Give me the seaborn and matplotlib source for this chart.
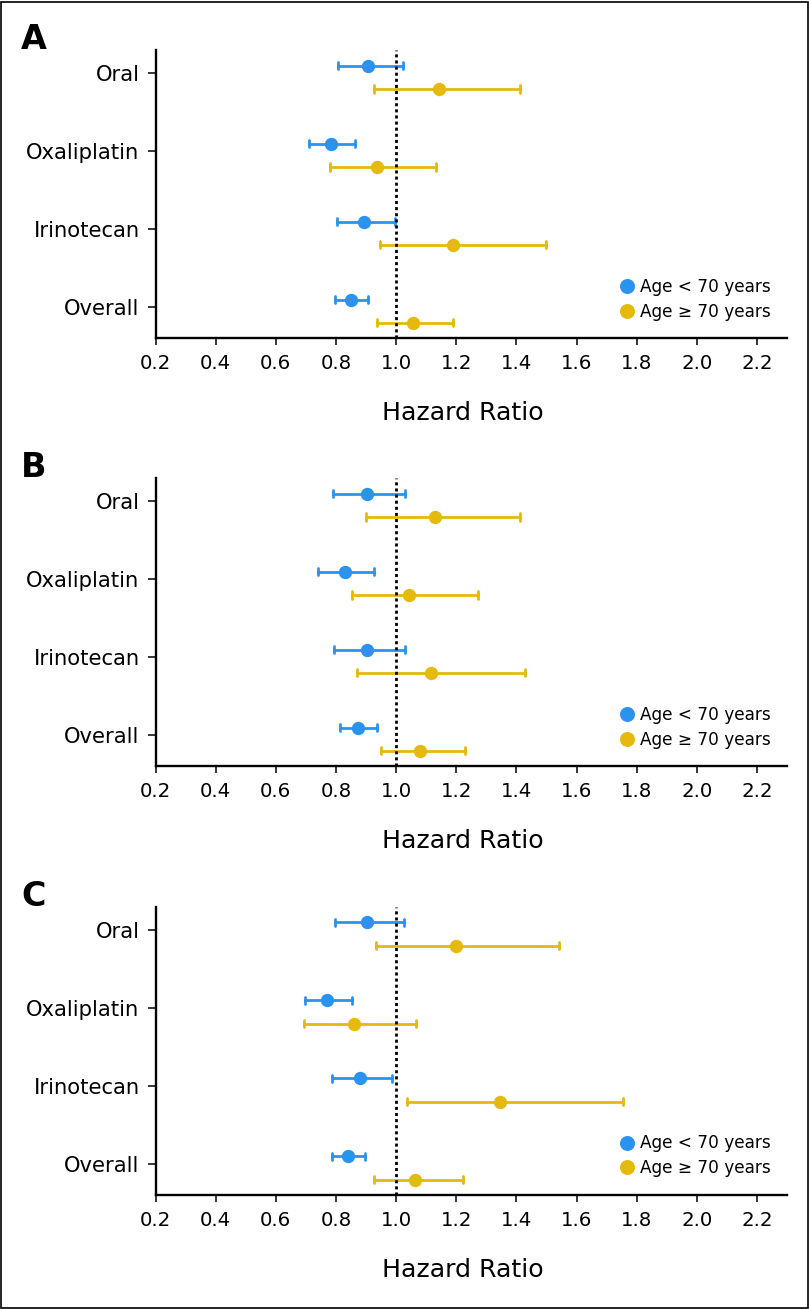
import matplotlib
matplotlib.use("Agg")
import matplotlib.pyplot as plt
import matplotlib.patches as patches
from matplotlib.lines import Line2D
import pandas as pd
import numpy as np
import seaborn as sns

sns.set_style("ticks", {'text.color': 'black', 'axes.labelcolor': 'black',
                        'xtick.color': 'black', 'ytick.color': 'black',
                        'axes.edgecolor': 'black'})
plt.rcParams['font.family'] = ['DejaVu Sans']

treatments = ['Oral', 'Oxaliplatin', 'Irinotecan', 'Overall']
groups = ['Age < 70 years', 'Age \u2265 70 years']
xticks = [0.2, 0.4, 0.6, 0.8, 1.0, 1.2, 1.4, 1.6, 1.8, 2.0, 2.2]
panels = ['A', 'B', 'C']

# hazard ratio, lower and upper 95% CI, per treatment
a_young_hr = [0.905, 0.783, 0.894, 0.850]
a_young_lo = [0.806, 0.712, 0.802, 0.798]
a_young_hi = [1.023, 0.863, 0.997, 0.908]
a_old_hr = [1.142, 0.938, 1.190, 1.055]
a_old_lo = [0.926, 0.779, 0.946, 0.938]
a_old_hi = [1.412, 1.133, 1.497, 1.188]

b_young_hr = [0.902, 0.830, 0.904, 0.872]
b_young_lo = [0.790, 0.742, 0.794, 0.812]
b_young_hi = [1.031, 0.925, 1.029, 0.937]
b_old_hr = [1.129, 1.042, 1.115, 1.079]
b_old_lo = [0.900, 0.852, 0.869, 0.950]
b_old_hi = [1.413, 1.274, 1.428, 1.229]

c_young_hr = [0.902, 0.770, 0.880, 0.840]
c_young_lo = [0.796, 0.696, 0.788, 0.787]
c_young_hi = [1.026, 0.852, 0.986, 0.896]
c_old_hr = [1.199, 0.859, 1.347, 1.063]
c_old_lo = [0.932, 0.693, 1.036, 0.926]
c_old_hi = [1.542, 1.066, 1.756, 1.223]

blue = '#2a93f0'
gold = '#e5b90d'
palette = {groups[0]: blue, groups[1]: gold}
offset = {groups[0]: -0.1, groups[1]: 0.2}

series = {
    'A': [(a_young_hr, a_young_lo, a_young_hi), (a_old_hr, a_old_lo, a_old_hi)],
    'B': [(b_young_hr, b_young_lo, b_young_hi), (b_old_hr, b_old_lo, b_old_hi)],
    'C': [(c_young_hr, c_young_lo, c_young_hi), (c_old_hr, c_old_lo, c_old_hi)],
}

rows = []
for p in panels:
    for g, (hr, lo, hi) in zip(groups, series[p]):
        for i, t in enumerate(treatments):
            for v in (lo[i], hr[i], hi[i]):
                rows.append({'panel': p, 'group': g, 'treatment': t,
                             'ypos': round(i + offset[g], 3), 'value': v})
df = pd.DataFrame(rows)

W, H = 809, 1309
fig = plt.figure(figsize=(W / 100, H / 100), dpi=100)

ax_left = 155.5
ax_right = 787
ax_tops = [50, 478, 906.7]
ax_h = 287.8

for p, top in zip(panels, ax_tops):
    ax = fig.add_axes([ax_left / W, 1 - (top + ax_h) / H, (ax_right - ax_left) / W, ax_h / H])
    sub = df[df['panel'] == p]
    sns.pointplot(data=sub, x='value', y='ypos', hue='group', hue_order=groups,
                  palette=palette, orient='h', native_scale=True,
                  estimator='median', errorbar=lambda v: (v.min(), v.max()),
                  markers='o', linestyles='none', capsize=0.3,
                  err_kws={'linewidth': 2.0}, markersize=9.6,
                  markeredgewidth=0, legend=False, ax=ax)
    ax.axvline(1.0, color='black', lw=2, linestyle=(0, (1.1, 1.1)), zorder=5)

    ax.set_xlim(0.2, 2.3)
    ax.set_ylim(3.39, -0.3)
    ax.set_xticks(xticks)
    ax.set_xticklabels([f'{t:.1f}' for t in xticks])
    ax.set_yticks(range(len(treatments)))
    ax.set_yticklabels(treatments)
    ax.set_ylabel('')
    ax.set_xlabel('Hazard Ratio', fontsize=18.2)
    ax.xaxis.set_label_coords(0.487, -(420 - 337.8) / ax_h)
    ax.xaxis.label.set_va('baseline')

    sns.despine(ax=ax)
    for s in ['left', 'bottom']:
        ax.spines[s].set_linewidth(1.7)
        ax.spines[s].set_color('black')
    ax.tick_params(axis='x', length=5, width=1.1, color='black', labelsize=14.2, pad=7)
    ax.tick_params(axis='y', length=5.5, width=1.1, color='black', labelsize=15.2, pad=6)

    handles = [Line2D([], [], marker='o', linestyle='none', markersize=10.8,
                      markerfacecolor=palette[g], markeredgewidth=0) for g in groups]
    ax.legend(handles, groups, loc='lower right', bbox_to_anchor=(0.975, 0.06),
              frameon=False, fontsize=12.2, handlelength=0.9, handletextpad=0.35,
              labelspacing=0.4, borderpad=0, borderaxespad=0)

    fig.text(21 / W, 1 - (top - 1) / H, p, fontsize=24, fontweight='bold',
             ha='left', va='baseline')

fig.patches.append(patches.Rectangle((1 / W, 1 / H), (W - 2.5) / W, (H - 2.5) / H,
                                     transform=fig.transFigure, fill=False,
                                     edgecolor='black', linewidth=1.2))

fig.savefig('out.png', dpi=100)
